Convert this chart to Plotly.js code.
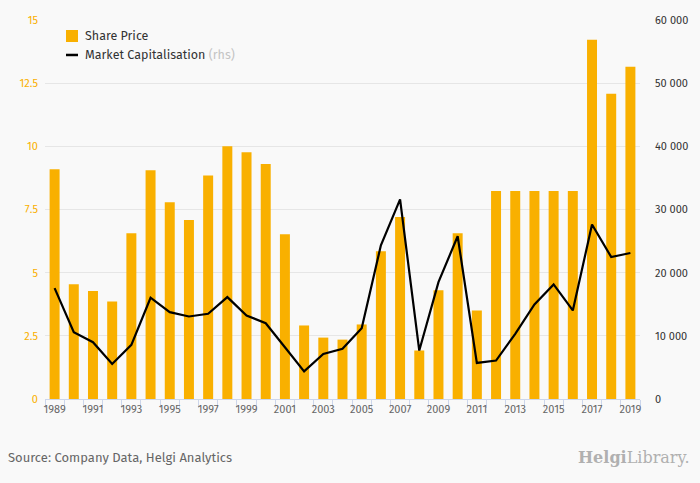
<!DOCTYPE html>
<html>
<head>
<meta charset="utf-8">
<script src="https://cdn.plot.ly/plotly-3.0.1.min.js"></script>
<style>
  html, body { margin: 0; padding: 0; background: #f9f9f9; }
  #chart { width: 700px; height: 483px; }
</style>
</head>
<body>
<div id="chart"></div>
<script>
var years = [1989, 1990, 1991, 1992, 1993, 1994, 1995, 1996, 1997, 1998,
             1999, 2000, 2001, 2002, 2003, 2004, 2005, 2006, 2007, 2008,
             2009, 2010, 2011, 2012, 2013, 2014, 2015, 2016, 2017, 2018, 2019]

var share_price = [9.09, 4.54, 4.27, 3.86, 6.56, 9.05, 7.79, 7.08, 8.85, 10.0,
                   9.77, 9.3, 6.52, 2.91, 2.43, 2.35, 2.95, 5.85, 7.2, 1.92,
                   4.3, 6.56, 3.5, 8.23, 8.23, 8.23, 8.23, 8.23, 14.22, 12.08, 13.15]

var market_cap = [17550, 10570, 8990, 5550, 8570, 16030, 13750, 13060, 13490, 16130,
                  13220, 12000, 8190, 4380, 7140, 7940, 11200, 24330, 31600, 7670,
                  18510, 25760, 5710, 6080, 10320, 14970, 18140, 14020, 27620, 22480, 23110]

var year_labels = years.filter(function(y) { return y % 2 == 1 })

var font = "'Fira Sans', 'Open Sans', 'Noto Sans', sans-serif"
var orange = '#f9b000'

var trace1 = {
  x: years,
  y: share_price,
  type: 'bar',
  name: 'Share Price',
  width: 0.52,
  marker: {color: orange}
}

var trace2 = {
  x: years,
  y: market_cap,
  type: 'scatter',
  mode: 'lines',
  name: 'Market Capitalisation (rhs)',
  yaxis: 'y2',
  line: {color: '#000000', width: 2.2}
}

// hand drawn legend (paper coords of the plot area)
var legend_shapes = [
  {type: 'rect', xref: 'paper', yref: 'paper', x0: 0.0353, x1: 0.0555, y0: 0.942, y1: 0.9736,
   fillcolor: orange, line: {width: 0}},
  {type: 'line', xref: 'paper', yref: 'paper', x0: 0.0353, x1: 0.0555, y0: 0.9077, y1: 0.9077,
   line: {color: '#000000', width: 2.5}}
]

var legend_texts = [
  {xref: 'paper', yref: 'paper', x: 0.0638, y: 0.958, xanchor: 'left', yanchor: 'middle',
   showarrow: false, text: 'Share Price', font: {family: font, size: 12.5, color: '#333333'}},
  {xref: 'paper', yref: 'paper', x: 0.0638, y: 0.9077, xanchor: 'left', yanchor: 'middle',
   showarrow: false, text: 'Market Capitalisation <span style="color:#c4c4c4">(rhs)</span>',
   font: {family: font, size: 12.5, color: '#333333'}}
]

var layout = {
  width: 700,
  height: 483,
  paper_bgcolor: '#f9f9f9',
  plot_bgcolor: '#f9f9f9',
  separators: '. ',
  font: {family: font, size: 11, color: '#333333'},
  margin: {l: 45, r: 60, t: 20, b: 84, pad: 0},
  showlegend: false,
  xaxis: {
    type: 'linear',
    range: [1988.5, 2019.5],
    tickvals: year_labels,
    ticktext: year_labels.map(String),
    ticks: '',
    showgrid: false,
    zeroline: false,
    showline: true,
    linecolor: '#ccd6eb',
    linewidth: 1,
    tickfont: {family: font, size: 11, color: '#666666'},
    minor: {ticks: 'outside', tick0: 1988.5, dtick: 1, ticklen: 8, tickcolor: '#ccd6eb', showgrid: false}
  },
  yaxis: {
    range: [0, 15],
    dtick: 2.5,
    showgrid: true,
    gridcolor: '#e6e6e6',
    zeroline: false,
    tickfont: {family: font, size: 11, color: orange},
    ticklabelstandoff: 6
  },
  yaxis2: {
    range: [0, 60000],
    dtick: 10000,
    tickformat: ',',
    overlaying: 'y',
    side: 'right',
    showgrid: false,
    zeroline: false,
    tickfont: {family: font, size: 11, color: '#333333'},
    ticklabelstandoff: 14
  },
  shapes: legend_shapes,
  annotations: legend_texts.concat([
    {
      xref: 'paper', yref: 'paper', x: -0.065, y: -0.155,
      xanchor: 'left', yanchor: 'middle', showarrow: false,
      text: 'Source: Company Data, Helgi Analytics',
      font: {family: font, size: 13, color: '#666666'}
    },
    {
      xref: 'paper', yref: 'paper', x: 1.085, y: -0.155,
      xanchor: 'right', yanchor: 'middle', showarrow: false,
      text: '<b>Helgi</b>Library.',
      font: {family: "'DejaVu Serif', serif", size: 16, color: '#b0b0b0'}
    }
  ])
}

Plotly.newPlot('chart', [trace1, trace2], layout, {displayModeBar: false, staticPlot: true})
</script>
</body>
</html>
